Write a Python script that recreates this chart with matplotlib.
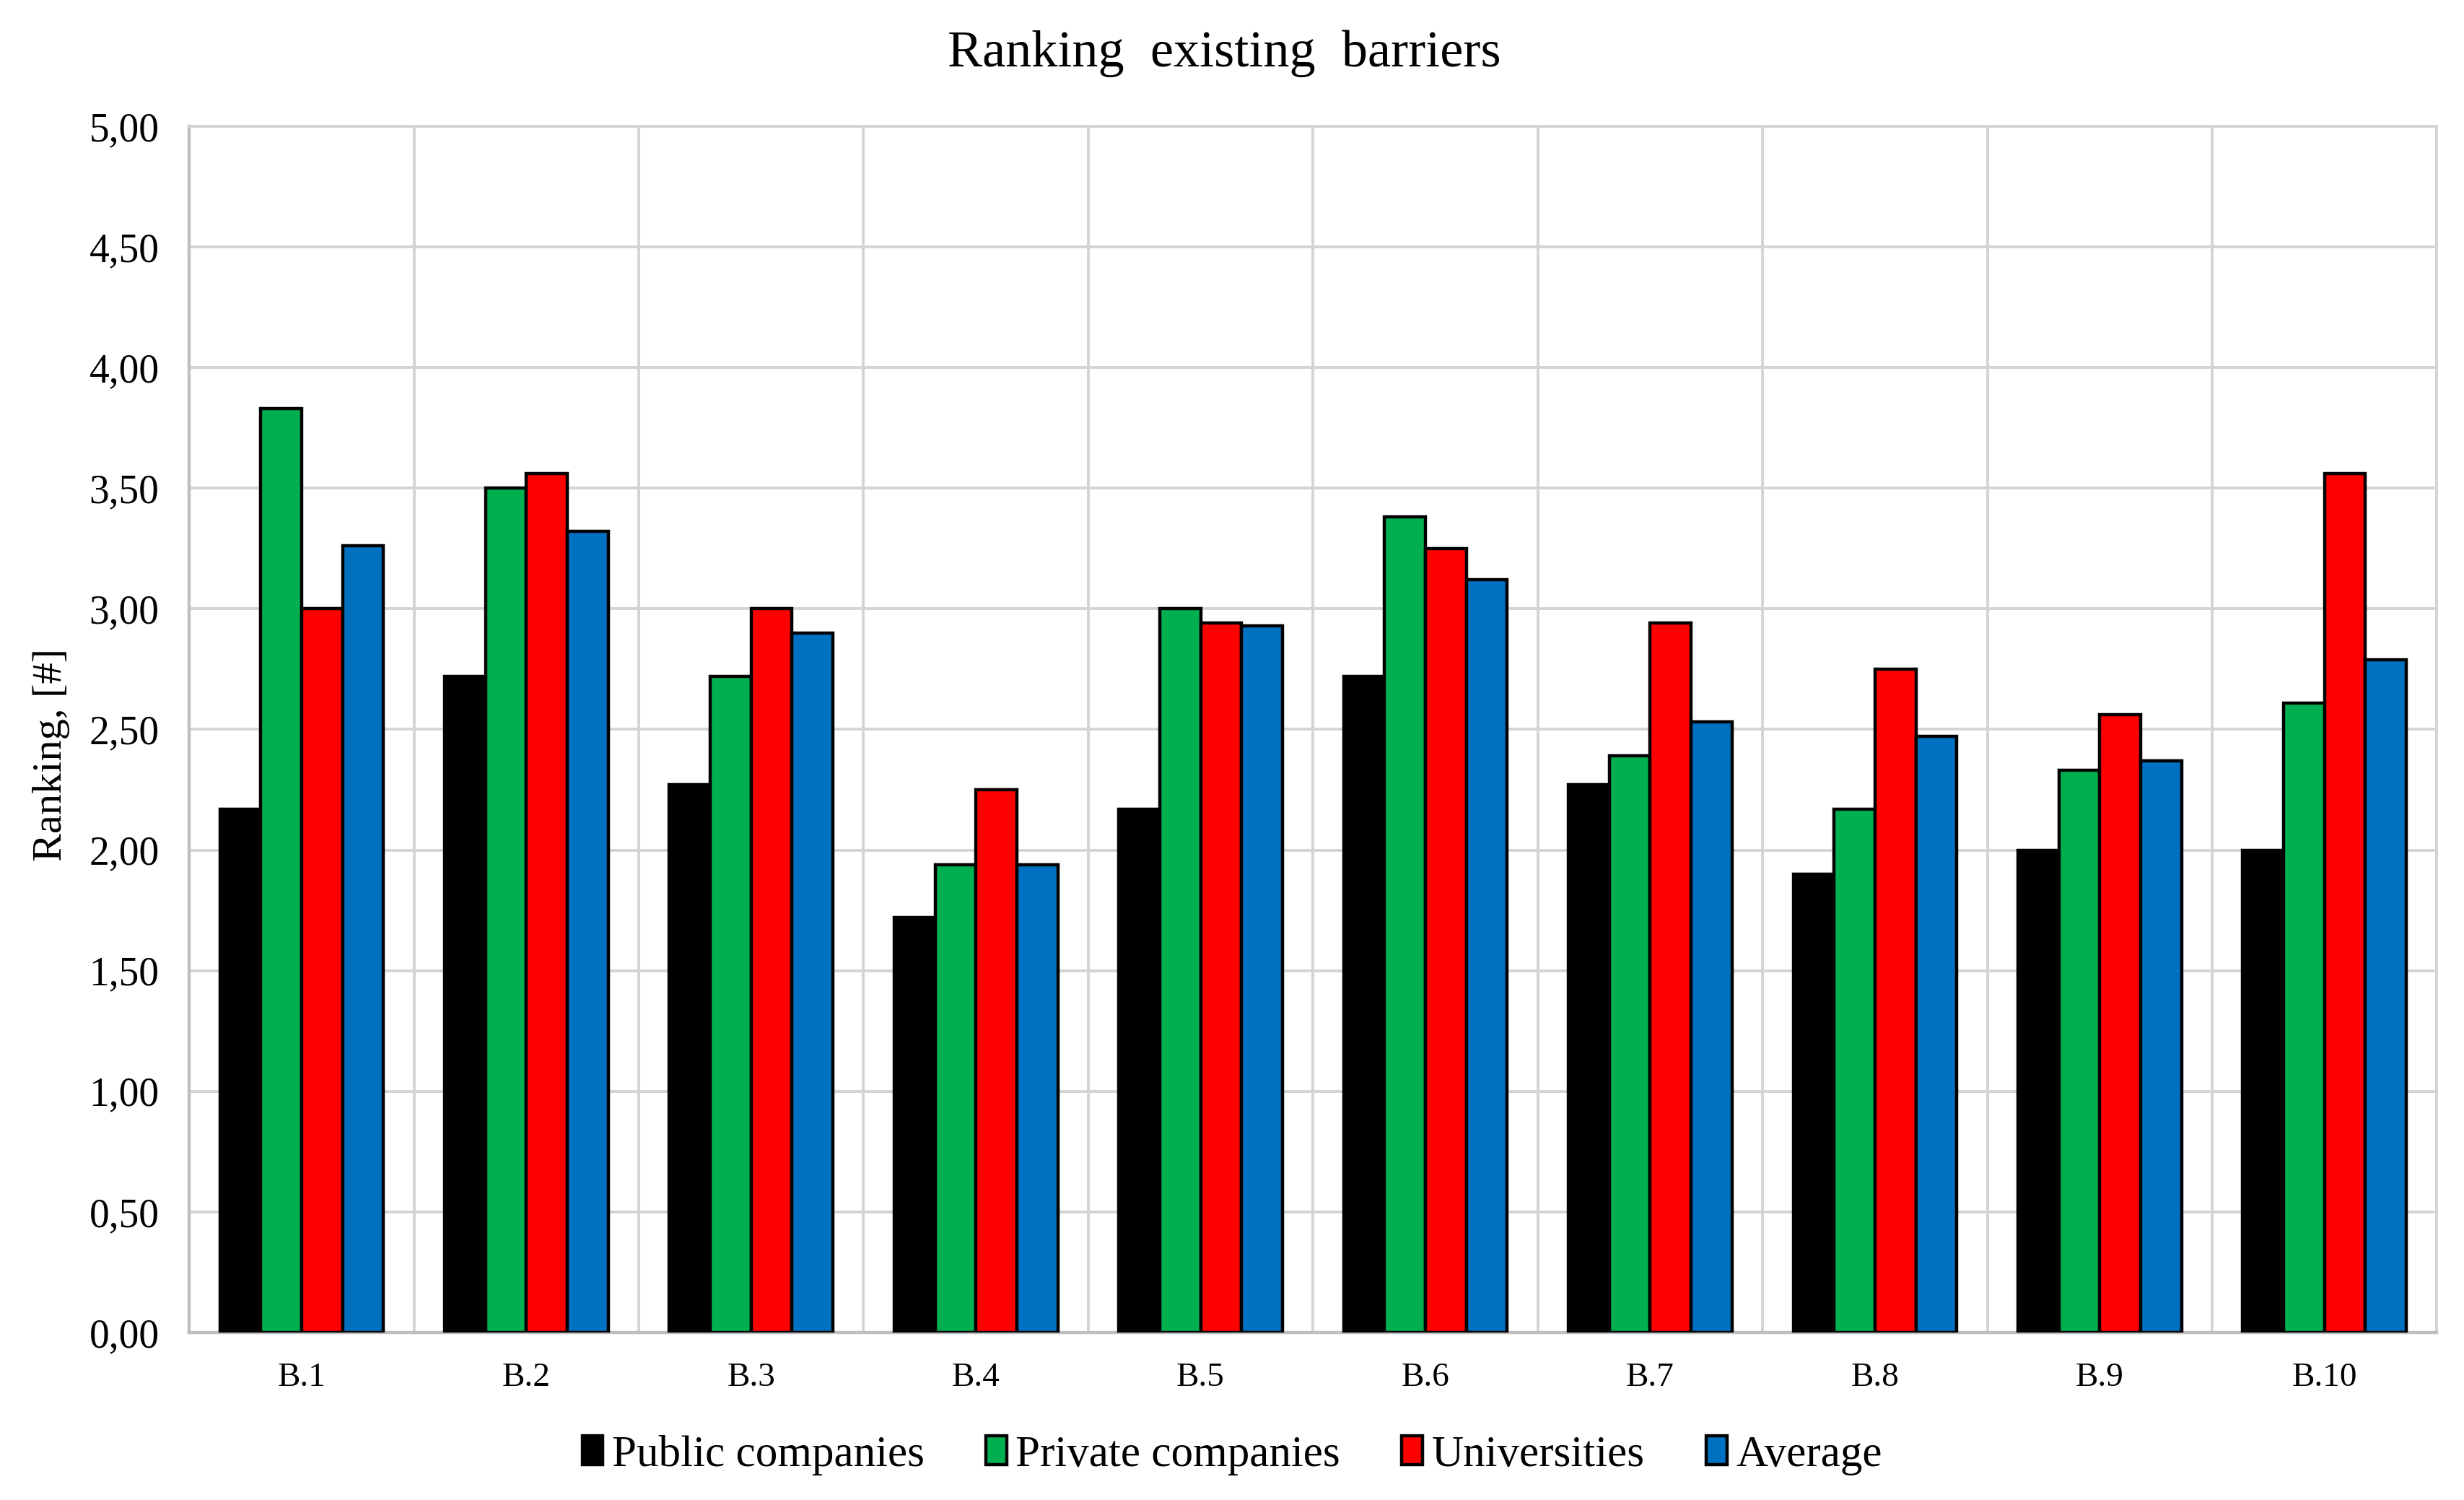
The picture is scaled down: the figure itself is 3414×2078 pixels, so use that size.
import matplotlib
matplotlib.use("Agg")
import matplotlib.pyplot as plt
import numpy as np
from matplotlib.ticker import MultipleLocator, FuncFormatter

categories = ["B.1", "B.2", "B.3", "B.4", "B.5", "B.6", "B.7", "B.8", "B.9", "B.10"]
public_companies = [2.17, 2.72, 2.27, 1.72, 2.17, 2.72, 2.27, 1.90, 2.00, 2.00]
private_companies = [3.83, 3.50, 2.72, 1.94, 3.00, 3.38, 2.39, 2.17, 2.33, 2.61]
universities = [3.00, 3.56, 3.00, 2.25, 2.94, 3.25, 2.94, 2.75, 2.56, 3.56]
average = [3.26, 3.32, 2.90, 1.94, 2.93, 3.12, 2.53, 2.47, 2.37, 2.79]
series_names = ["Public companies", "Private companies", "Universities", "Average"]
colors = ["#000000", "#00B050", "#FF0000", "#0070C0"]

plt.rcParams['font.family'] = ['Liberation Serif', 'DejaVu Serif']

fig = plt.figure(figsize=(17.07, 10.39), dpi=200)
ax = fig.add_axes([0.0768, 0.1117, 0.9122, 0.8041])

x = np.arange(len(categories))
bw = 0.182
series = [public_companies, private_companies, universities, average]
for i, (vals, name, c) in enumerate(zip(series, series_names, colors)):
    ax.bar(x + (i - 1.5) * bw, vals, width=bw, color=c, edgecolor="black",
           linewidth=1.6, label=name, zorder=3)

ax.set_xlim(-0.5, len(categories) - 0.5)
ax.set_ylim(0, 5)
ax.yaxis.set_major_locator(MultipleLocator(0.5))
ax.yaxis.set_major_formatter(FuncFormatter(lambda v, p: f"{v:.2f}".replace(".", ",")))
ax.set_xticks(x)
ax.set_xticklabels(categories, fontsize=17)
ax.tick_params(axis='y', labelsize=20, length=0, pad=15)
ax.tick_params(axis='x', length=0, pad=15)

# gridlines
ax.set_xticks(np.arange(-0.5, len(categories), 1.0), minor=True)
ax.grid(True, axis='y', which='major', color='#d4d4d4', linewidth=1.4, zorder=0)
ax.grid(True, axis='x', which='minor', color='#d4d4d4', linewidth=1.4, zorder=0)
ax.tick_params(axis='x', which='minor', length=0)
for s in ['top', 'right']:
    ax.spines[s].set_color('#d4d4d4')
    ax.spines[s].set_linewidth(1.4)
for s in ['left', 'bottom']:
    ax.spines[s].set_color('#bfbfbf')
    ax.spines[s].set_linewidth(1.6)

ax.set_ylabel("Ranking, [#]", fontsize=21)
ax.yaxis.set_label_coords(-0.053, 0.479)
fig.suptitle("Ranking  existing  barriers", fontsize=26, x=0.497, y=0.98)

leg = fig.legend(loc='center', bbox_to_anchor=(0.5, 0.03), ncol=4, frameon=False,
                 fontsize=22, handlelength=0.47, handleheight=0.62, handletextpad=0.2,
                 columnspacing=1.4)

fig.savefig("out.png", dpi=200)
